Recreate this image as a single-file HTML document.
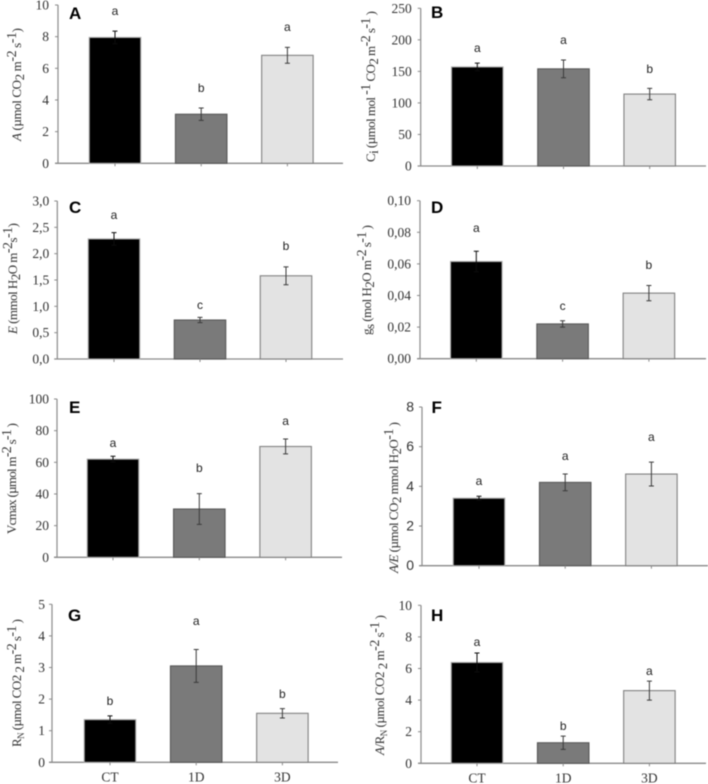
<!DOCTYPE html>
<html lang="en">
<head>
<meta charset="utf-8">
<title>Gas exchange bar charts</title>
<style>
html,body{margin:0;padding:0;background:#fff;width:708px;height:784px;overflow:hidden}
svg{display:block;filter:blur(0.4px)}
</style>
</head>
<body>
<svg id="figure" xmlns="http://www.w3.org/2000/svg" width="708" height="784" viewBox="0 0 708 784"></svg>
<script>
const categories = ['CT', '1D', '3D'];

const aValues = [7.95, 3.1, 6.82];
const aErrors = [0.4, 0.39, 0.5];
const aLetters = ['a', 'b', 'a'];
const aLetterLevels = [9.62, 4.76, 8.61];
const aTicks = ['0', '2', '4', '6', '8', '10'];

const bValues = [157, 154, 114];
const bErrors = [6, 14, 9];
const bLetters = ['a', 'a', 'b'];
const bLetterLevels = [187, 200, 154];
const bTicks = ['0', '50', '100', '150', '200', '250'];

const cValues = [2.28, 0.74, 1.58];
const cErrors = [0.12, 0.05, 0.17];
const cLetters = ['a', 'c', 'b'];
const cLetterLevels = [2.73, 1.03, 2.15];
const cTicks = ['0,0', '0,5', '1,0', '1,5', '2,0', '2,5', '3,0'];

const dValues = [0.0615, 0.022, 0.0415];
const dErrors = [0.0065, 0.002, 0.0048];
const dLetters = ['a', 'c', 'b'];
const dLetterLevels = [0.0827, 0.0334, 0.0593];
const dTicks = ['0,00', '0,02', '0,04', '0,06', '0,08', '0,10'];

const eValues = [62, 30.5, 70];
const eErrors = [1.8, 9.7, 4.7];
const eLetters = ['a', 'b', 'a'];
const eLetterLevels = [72.2, 56.4, 86.1];
const eTicks = ['0', '20', '40', '60', '80', '100'];

const fValues = [3.4, 4.2, 4.62];
const fErrors = [0.1, 0.42, 0.6];
const fLetters = ['a', 'a', 'a'];
const fLetterLevels = [4.27, 5.53, 6.49];
const fTicks = ['0', '2', '4', '6', '8'];

const gValues = [1.35, 3.05, 1.55];
const gErrors = [0.12, 0.52, 0.15];
const gLetters = ['b', 'a', 'b'];
const gLetterLevels = [1.94, 4.47, 2.16];
const gTicks = ['0', '1', '2', '3', '4', '5'];

const hValues = [6.38, 1.3, 4.6];
const hErrors = [0.6, 0.42, 0.6];
const hLetters = ['a', 'b', 'a'];
const hLetterLevels = [7.68, 2.36, 5.84];
const hTicks = ['0', '2', '4', '6', '8', '10'];

const SVG_NS = 'http://www.w3.org/2000/svg';
const figure = document.getElementById('figure');
const SERIF = '"Liberation Serif", serif';
const SANS = '"Liberation Sans", sans-serif';
const INK = '#333';
const AXIS = '#8a8a8a';
const barFills = ['#000000', '#7a7a7a', '#e3e3e3'];
const barEdges = ['#a8a8a8', '#585858', '#808080'];
const errorInks = ['#0c0c0c', '#3a3a3a', '#3a3a3a'];

function make(tag, attrs, parent) {
  const el = document.createElementNS(SVG_NS, tag);
  for (const k in attrs) el.setAttribute(k, attrs[k]);
  parent.appendChild(el);
  return el;
}

function drawTitle(group, p) {
  const t = make('text', {
    transform: 'translate(' + p.titleX + ',' + p.titleBottom + ') rotate(-90)',
    'font-family': SERIF, 'font-size': p.titleSize || 13, fill: INK,
    textLength: p.titleLength, lengthAdjust: 'spacing'
  }, group);
  
  
  let shift = 0;
  p.title.forEach(function (part) {
    const target = part[1] === 'sup' ? -5 : (part[1] === 'sub' || part[1] === 'n') ? 3 : 0;
    const span = make('tspan', { dy: target - shift }, t);
    if (part[1] === 'i') span.setAttribute('font-style', 'italic');
    if (part[1] === 'n') span.setAttribute('font-size', 9);
    if (part[1] === 'sup') span.setAttribute('font-size', 14);
    span.textContent = part[0];
    shift = target;
  });
}

function drawPanel(p) {
  const group = make('g', {}, figure);
  
  

  const tickNums = p.ticks.map(function (s) { return parseFloat(s.replace(',', '.')); });
  const yMax = tickNums[tickNums.length - 1];
  const y = function (v) { return p.bottom - (v / yMax) * (p.bottom - p.top); };
  const x = function (i) { return p.firstCenter + i * p.step; };
  const barWidth = 51.5;

  const yAxis = make('line', { x1: p.axisX, x2: p.axisX, y1: p.top, y2: p.bottom, stroke: AXIS, 'stroke-width': 1.2 }, group);
  
  
  const xAxis = make('line', { x1: p.axisX - 3, x2: p.right, y1: p.bottom, y2: p.bottom, stroke: AXIS, 'stroke-width': 1.3 }, group);
  
  

  categories.forEach(function (cat, i) {
    const bar = make('rect', {
      x: x(i) - barWidth / 2, y: y(p.values[i]),
      width: barWidth, height: p.bottom - y(p.values[i]),
      fill: barFills[i], stroke: barEdges[i], 'stroke-width': 1.1
    }, group);
    
    

    const hi = y(p.values[i] + p.errors[i]);
    const lo = y(p.values[i] - p.errors[i]);
    const err = make('path', {
      d: 'M' + (x(i) - 2.5) + ' ' + hi + 'H' + (x(i) + 2.5) + 'M' + x(i) + ' ' + hi + 'V' + lo +
         'M' + (x(i) - 2.5) + ' ' + lo + 'H' + (x(i) + 2.5),
      fill: 'none', stroke: errorInks[i], 'stroke-width': 1
    }, group);
    
    

    const letter = make('text', {
      x: x(i), y: y(p.letterLevels[i]) + 4, 'text-anchor': 'middle',
      'font-family': SANS, 'font-size': 12, fill: '#222'
    }, group);
    
    
    letter.textContent = p.letters[i];

    const xt = make('line', { x1: x(i), x2: x(i), y1: p.bottom, y2: p.bottom + 3, stroke: AXIS, 'stroke-width': 1 }, group);
    
    

    if (p.showCategories) {
      const label = make('text', {
        x: x(i), y: p.bottom + 19, 'text-anchor': 'middle',
        'font-family': SERIF, 'font-size': 13.5, fill: INK
      }, group);
      
      
      label.textContent = cat;
    }
  });

  p.ticks.forEach(function (label, i) {
    const ty = y(tickNums[i]);
    const tick = make('line', { x1: p.axisX - 3, x2: p.axisX, y1: ty, y2: ty, stroke: AXIS, 'stroke-width': 1 }, group);
    
    
    const text = make('text', {
      x: p.axisX - (p.labelGap || 9), y: ty + 4.5, 'text-anchor': 'end',
      'font-family': p.tickFont || SERIF, 'font-size': p.tickSize || 13.5, fill: INK
    }, group);
    
    
    text.textContent = label;
  });

  drawTitle(group, p);

  const tag = make('text', {
    x: p.tagX, y: p.tagY, 'font-family': SANS, 'font-size': 17, 'font-weight': 'bold', fill: '#000'
  }, group);
  
  
  tag.textContent = p.id;
}

const CO2 = [['(\u00b5mol CO', ''], ['2', 'sub']];

drawPanel({ id: 'A', values: aValues, errors: aErrors, letters: aLetters, letterLevels: aLetterLevels, ticks: aTicks,
  axisX: 58, right: 343, top: 5, bottom: 163.3, firstCenter: 115, step: 86.2, tagX: 69, tagY: 19,
  titleX: 21, titleBottom: 141, titleLength: 113,
  title: [['A', 'i'], [' ', '']].concat(CO2, [[' m', ''], ['-2', 'sup'], [' s', ''], ['-1', 'sup'], [')', '']]) });

drawPanel({ id: 'B', values: bValues, errors: bErrors, letters: bLetters, letterLevels: bLetterLevels, ticks: bTicks,
  axisX: 420.7, right: 706, top: 8.3, bottom: 166, firstCenter: 477.3, step: 86.2, tagX: 431, tagY: 18,
  titleX: 375, titleBottom: 162, titleLength: 151,
  title: [['C', ''], ['i', 'sub'], [' (\u00b5mol mol ', ''], ['-1', 'sup'], [' CO', ''], ['2', 'sub'], [' m', ''], ['-2', 'sup'], [' s', ''], ['-1', 'sup'], [' )', '']] });

drawPanel({ id: 'C', values: cValues, errors: cErrors, letters: cLetters, letterLevels: cLetterLevels, ticks: cTicks,
  axisX: 57.3, right: 343, top: 201, bottom: 359, firstCenter: 114, step: 86, tagX: 69, tagY: 213, labelGap: 8,
  titleX: 17, titleBottom: 334, titleLength: 111,
  title: [['E', 'i'], [' (mmol H', ''], ['2', 'sub'], ['O m', ''], ['-2', 'sup'], ['s', ''], ['-1', 'sup'], [')', '']] });

drawPanel({ id: 'D', values: dValues, errors: dErrors, letters: dLetters, letterLevels: dLetterLevels, ticks: dTicks,
  axisX: 420, right: 706, top: 200.7, bottom: 358.7, firstCenter: 476.3, step: 86.3, tagX: 431, tagY: 213,
  titleX: 371, titleBottom: 335, titleLength: 110,
  title: [['g', ''], ['s', 'sub'], [' (mol H', ''], ['2', 'sub'], ['O m', ''], ['-2', 'sup'], [' s', ''], ['-1', 'sup'], [' )', '']] });

drawPanel({ id: 'E', values: eValues, errors: eErrors, letters: eLetters, letterLevels: eLetterLevels, ticks: eTicks,
  axisX: 57, right: 342, top: 399, bottom: 557.3, firstCenter: 113, step: 86.3, tagX: 69, tagY: 413, labelGap: 8,
  titleX: 16, titleBottom: 534, titleLength: 111,
  title: [['Vcmax (\u00b5mol m', ''], ['-2', 'sup'], [' s', ''], ['-1', 'sup'], [' )', '']] });

drawPanel({ id: 'F', values: fValues, errors: fErrors, letters: fLetters, letterLevels: fLetterLevels, ticks: fTicks,
  axisX: 422, right: 708, top: 407, bottom: 565.7, firstCenter: 479, step: 86.2, tagX: 431.5, tagY: 413,
  tickFont: SANS, tickSize: 14, labelGap: 8,
  titleX: 398, titleBottom: 573, titleLength: 151,
  title: [['A/E', 'i'], [' ', '']].concat(CO2, [[' mmol H', ''], ['2', 'sub'], ['O', ''], ['-1', 'sup'], [' )', '']]) });

drawPanel({ id: 'G', values: gValues, errors: gErrors, letters: gLetters, letterLevels: gLetterLevels, ticks: gTicks,
  axisX: 52, right: 338, top: 604.3, bottom: 762.3, firstCenter: 110, step: 86.2, tagX: 68, tagY: 621, labelGap: 7, showCategories: true,
  titleX: 21, titleBottom: 747, titleLength: 128,
  title: [['R', ''], ['N', 'n'], [' (\u00b5mol CO2 ', ''], ['2', 'sub'], [' m', ''], ['-2', 'sup'], [' s', ''], ['-1', 'sup'], [' )', '']] });

drawPanel({ id: 'H', values: hValues, errors: hErrors, letters: hLetters, letterLevels: hLetterLevels, ticks: hTicks,
  axisX: 421, right: 706, top: 605.3, bottom: 763.3, firstCenter: 477, step: 86.2, tagX: 431, tagY: 621, showCategories: true,
  titleX: 384, titleBottom: 755, titleLength: 140,
  title: [['A', 'i'], ['/R', ''], ['N', 'n'], [' (\u00b5mol CO2 ', ''], ['2', 'sub'], [' m', ''], ['-2', 'sup'], [' s', ''], ['-1', 'sup'], [' )', '']] });
</script>
</body>
</html>
